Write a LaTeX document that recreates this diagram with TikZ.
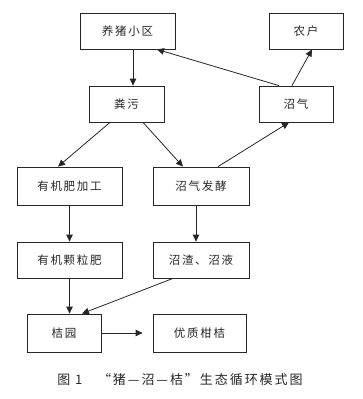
\documentclass[tikz,border=0pt]{standalone}
\usepackage{fontspec}
\newfontfamily\cjk[LetterSpace=15]{Noto Sans CJK SC}
\usetikzlibrary{arrows.meta}
\begin{document}
\begin{tikzpicture}[x=1pt,y=-1pt,
  box/.style={draw=black!85, line width=0.8pt, rectangle, inner sep=0pt, font=\cjk\fontsize{11.5}{13}\selectfont, text=black!85},
  arr/.style={draw=black!85, line width=0.8pt, -{Triangle[length=7pt,width=6.5pt]}}]
\useasboundingbox (0,0) rectangle (362,399);
\node[box, minimum width=95pt, minimum height=36pt] (pig) at (127.5,31) {养猪小区};
\node[box, minimum width=74pt, minimum height=36pt] (farmer) at (306,31) {农户};
\node[box, minimum width=75pt, minimum height=36pt] (manure) at (126.5,104) {粪污};
\node[box, minimum width=74pt, minimum height=36pt] (biogas) at (296,104) {沼气};
\node[box, minimum width=105pt, minimum height=38pt] (organic) at (69.5,186) {有机肥加工};
\node[box, minimum width=96pt, minimum height=38pt] (ferment) at (201,186) {沼气发酵};
\node[box, minimum width=105pt, minimum height=36pt] (granule) at (69.5,260) {有机颗粒肥};
\node[box, minimum width=96pt, minimum height=36pt] (residue) at (201,260) {沼渣、沼液};
\node[box, minimum width=74pt, minimum height=38pt] (orchard) at (64,333) {桔园};
\node[box, minimum width=93pt, minimum height=38pt] (citrus) at (199.5,333) {优质柑桔};
\node[font=\cjk\fontsize{13}{15}\selectfont, text=black!85] (cap) at (180,380) {图 1\hspace{1.2em}“猪—沼—桔”生态循环模式图};
\draw[arr] ([xshift=5.5pt]pig.south) -- ([xshift=6.5pt]manure.north);
\draw[arr] ([xshift=-17pt]biogas.north) -- ([xshift=29.5pt]pig.south);
\draw[arr] ([xshift=-4pt]biogas.north) -- ([xshift=6pt]farmer.south);
\draw[arr] ([xshift=-16.5pt]manure.south) -- ([xshift=-11.5pt]organic.north);
\draw[arr] ([xshift=16.5pt]manure.south) -- ([xshift=-18pt]ferment.north);
\draw[arr] ([xshift=17pt]ferment.north) -- ([xshift=-7pt]biogas.south);
\draw[arr] (organic.south) -- (granule.north);
\draw[arr] ([xshift=-5pt]ferment.south) -- ([xshift=-5pt]residue.north);
\draw[arr] (granule.south) -- ([xshift=5.5pt]orchard.north);
\draw[arr] ([xshift=-28pt]residue.south) -- ([xshift=18pt]orchard.north);
\draw[arr, shorten >=10pt] (orchard.east) -- (citrus.west);
\end{tikzpicture}
\end{document}
